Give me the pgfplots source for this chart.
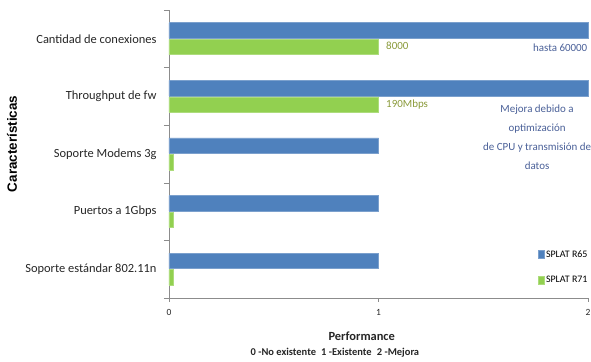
\documentclass[border=0pt]{standalone}
\usepackage{fontspec}
\setmainfont{Carlito}
\newfontfamily\arialf{Liberation Sans}
\usepackage{pgfplots}
\pgfplotsset{compat=1.18}
\definecolor{barblue}{HTML}{4F81BD}
\definecolor{bargreen}{HTML}{92D050}
\definecolor{axgray}{HTML}{8C8C8C}
\definecolor{olivetxt}{HTML}{8A9A3A}
\definecolor{notebl}{HTML}{4A6098}
\begin{document}
\begin{tikzpicture}
\begin{axis}[
  scale only axis, width=419bp, height=288bp,
  xbar, bar width=15.5bp,
  xmin=0, xmax=2, ymin=-0.5, ymax=4.5,
  axis x line*=bottom, axis y line*=left,
  axis line style={axgray, -},
  xtick={0,1,2}, ytick={0,1,2,3,4},
  yticklabels={Soporte estándar 802.11n, Puertos a 1Gbps, Soporte Modems 3g, Throughput de fw, Cantidad de conexiones},
  minor ytick={-0.5,0.5,1.5,2.5,3.5,4.5},
  major y tick style={draw=none},
  tick align=outside,
  major tick length=4bp, minor tick length=5bp,
  tick style={axgray},
  minor tick style={axgray},
  y tick label style={font=\fontsize{12.5}{14}\selectfont, xshift=-5bp, text=black!85},
  x tick label style={font=\fontsize{9.5}{11}\selectfont, yshift=-4bp, text=black!85},
  /pgf/number format/assume math mode=true,
  clip=false,
  legend style={at={(rel axis cs:0.880,0.166)}, anchor=north west, draw=none, fill=none,
    font=\fontsize{10}{11}\selectfont, row sep=17bp, inner sep=0pt,
    nodes={inner xsep=1.5bp, inner ysep=0bp}},
  legend cell align=left,
  legend image code/.code={\fill[#1] (0bp,-4bp) rectangle (6bp,4bp);},
]
\addplot[fill=barblue, draw=barblue!75!white, line width=0.6pt, bar shift=8.25bp]
  coordinates {(2,4) (2,3) (1,2) (1,1) (1,0)};
\addplot[fill=bargreen, draw=bargreen!75!white, line width=0.6pt, bar shift=-8.25bp]
  coordinates {(1,4) (1,3) (0.02,2) (0.02,1) (0.02,0)};
\legend{SPLAT R65, SPLAT R71}
\node[anchor=west, inner sep=0pt, text=olivetxt, font=\fontsize{11}{13}\selectfont] at (axis cs:1.036,3.875) {8000};
\node[anchor=east, text=notebl, font=\fontsize{11}{13}\selectfont, inner sep=0.5bp] at (axis cs:2,3.84) {hasta 60000};
\node[anchor=west, inner sep=0pt, text=olivetxt, font=\fontsize{11}{13}\selectfont] at (axis cs:1.036,2.85) {190Mbps};
\node[align=center, text=notebl, font=\fontsize{11}{19}\selectfont] at (axis cs:1.757,2.295)
  {Mejora debido a\\optimización\\de CPU y transmisión de\\datos};
\node[rotate=90, font=\arialf\bfseries\fontsize{13.5}{15}\selectfont] at (rel axis cs:-0.3747,0.535) {Características};
\node[font=\bfseries\fontsize{12.5}{14}\selectfont, text=black!85] at (rel axis cs:0.46,-0.132) {Performance};
\node[font=\bfseries\fontsize{10.5}{12}\selectfont, text=black!85] at (rel axis cs:0.396,-0.191) {0 -No existente\enspace 1 -Existente\enspace 2 -Mejora};
\coordinate (bbsw) at (rel axis cs:-0.40334,-0.22222);
\coordinate (bbne) at (rel axis cs:1.00716,1.03472);
\end{axis}
\pgfresetboundingbox
\path (bbsw) rectangle (bbne);
\end{tikzpicture}
\end{document}
